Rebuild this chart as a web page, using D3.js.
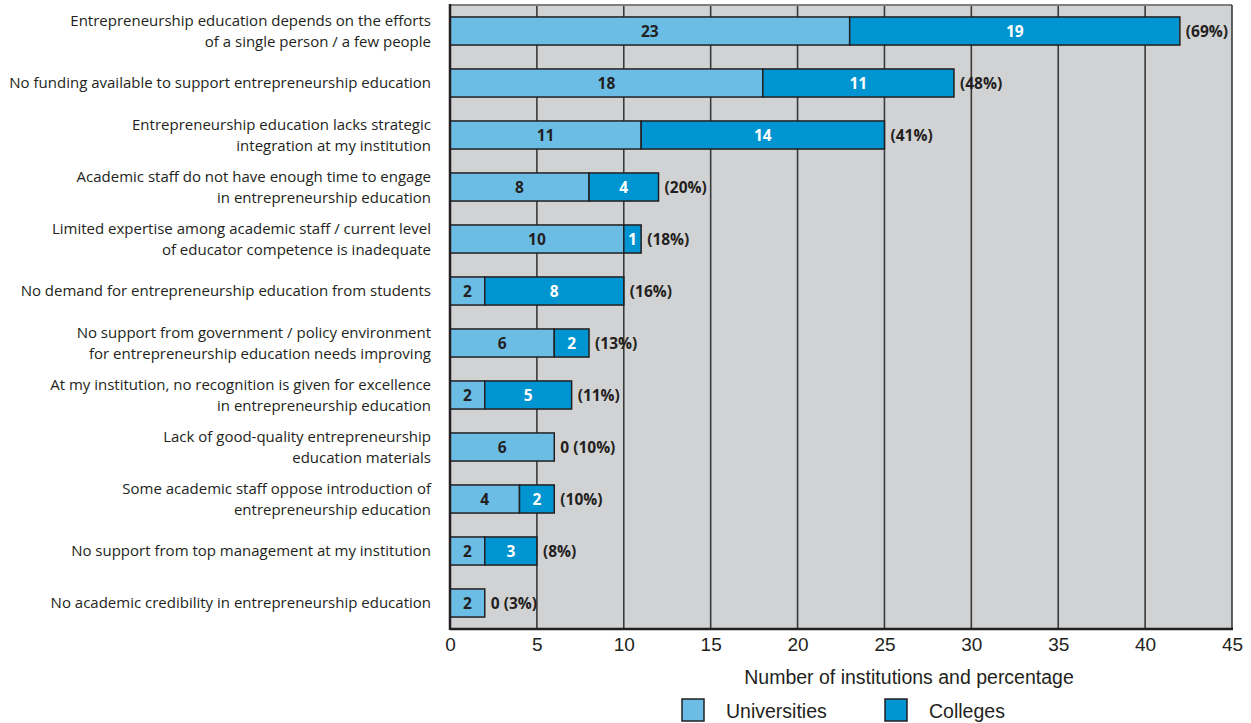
<!DOCTYPE html>
<html>
<head>
<meta charset="utf-8">
<script src="https://cdn.jsdelivr.net/npm/d3@7/dist/d3.min.js"></script>
<style>
  html, body { margin: 0; padding: 0; background: #ffffff; }
  svg { display: block; }
</style>
</head>
<body>
<svg id="chart" width="1251" height="723"></svg>
<script>
// Barriers to entrepreneurship education, by type of institution
const categories = [
  ["Entrepreneurship education depends on the efforts", "of a single person / a few people"],
  ["No funding available to support entrepreneurship education"],
  ["Entrepreneurship education lacks strategic", "integration at my institution"],
  ["Academic staff do not have enough time to engage", "in entrepreneurship education"],
  ["Limited expertise among academic staff / current level", "of educator competence is inadequate"],
  ["No demand for entrepreneurship education from students"],
  ["No support from government / policy environment", "for entrepreneurship education needs improving"],
  ["At my institution, no recognition is given for excellence", "in entrepreneurship education"],
  ["Lack of good-quality entrepreneurship", "education materials"],
  ["Some academic staff oppose introduction of", "entrepreneurship education"],
  ["No support from top management at my institution"],
  ["No academic credibility in entrepreneurship education"]
];
const universities = [23, 18, 11, 8, 10, 2, 6, 2, 6, 4, 2, 2];
const colleges     = [19, 11, 14, 4, 1, 8, 2, 5, 0, 2, 3, 0];
const percentages  = [69, 48, 41, 20, 18, 16, 13, 11, 10, 10, 8, 3];
const xTicks = [0, 5, 10, 15, 20, 25, 30, 35, 40, 45];
const seriesNames = ["Universities", "Colleges"];

const colors = { Universities: "#6bbde6", Colleges: "#0095d0" };
const ink = "#231f20";
const labelFont = "'Open Sans', 'Noto Sans', sans-serif";
const axisFont = "'Liberation Sans', Arial, sans-serif";

const svg = d3.select("#chart");
const plot = { left: 450, right: 1232, top: 5, bottom: 629 };

const x = d3.scaleLinear().domain([0, 45]).range([plot.left, plot.right]);
const y = d3.scaleBand()
  .domain(d3.range(categories.length))
  .range([plot.top, plot.bottom])
  .paddingInner(0.46)
  .paddingOuter(0.23);

// plot background
svg.append("rect")
  .attr("x", plot.left).attr("y", plot.top)
  .attr("width", plot.right - plot.left).attr("height", plot.bottom - plot.top)
  .attr("fill", "#d1d2d4");

// vertical grid lines
svg.append("g")
  .selectAll("line")
  .data(xTicks.filter(t => t > 0 && t < 45))
  .join("line")
  .attr("x1", d => x(d)).attr("x2", d => x(d))
  .attr("y1", plot.top).attr("y2", plot.bottom)
  .attr("stroke", "#3a3a3a").attr("stroke-width", 1.6);

// frame
svg.append("line").attr("x1", plot.left).attr("x2", plot.right)
  .attr("y1", plot.top).attr("y2", plot.top)
  .attr("stroke", "#7f7f7f").attr("stroke-width", 2);
svg.append("line").attr("x1", plot.right).attr("x2", plot.right)
  .attr("y1", plot.top).attr("y2", plot.bottom)
  .attr("stroke", "#3a3a3a").attr("stroke-width", 1.6);

// stacked data
const rows = categories.map((c, i) => ({
  i, lines: c, uni: universities[i], col: colleges[i], pct: percentages[i]
}));

const bh = y.bandwidth();
const barG = svg.append("g");
const valueSize = 15.5;

rows.forEach(r => {
  const yy = y(r.i);
  const cy = yy + bh / 2;
  // universities segment
  barG.append("rect")
    .attr("x", x(0)).attr("y", yy)
    .attr("width", x(r.uni) - x(0)).attr("height", bh)
    .attr("fill", colors.Universities)
    .attr("stroke", ink).attr("stroke-width", 1.5);
  barG.append("text")
    .attr("x", (x(0) + x(r.uni)) / 2).attr("y", cy)
    .attr("dy", "0.36em").attr("text-anchor", "middle")
    .attr("font-family", labelFont).attr("font-weight", 700).attr("font-size", valueSize)
    .attr("fill", ink).text(r.uni);
  // colleges segment
  if (r.col > 0) {
    barG.append("rect")
      .attr("x", x(r.uni)).attr("y", yy)
      .attr("width", x(r.uni + r.col) - x(r.uni)).attr("height", bh)
      .attr("fill", colors.Colleges)
      .attr("stroke", ink).attr("stroke-width", 1.5);
    barG.append("text")
      .attr("x", (x(r.uni) + x(r.uni + r.col)) / 2).attr("y", cy)
      .attr("dy", "0.36em").attr("text-anchor", "middle")
      .attr("font-family", labelFont).attr("font-weight", 700).attr("font-size", valueSize)
      .attr("fill", "#ffffff").text(r.col);
  }
  // total share label
  const endX = x(r.uni + r.col);
  const t = barG.append("text")
    .attr("x", endX + 6).attr("y", cy)
    .attr("dy", "0.36em").attr("text-anchor", "start")
    .attr("font-family", labelFont).attr("font-weight", 700).attr("font-size", valueSize)
    .attr("fill", ink);
  t.text(r.col === 0 ? `0 (${r.pct}%)` : `(${r.pct}%)`);
});

// left and bottom axis lines (drawn over the bars)
svg.append("line").attr("x1", plot.left).attr("x2", plot.left)
  .attr("y1", plot.top - 1).attr("y2", plot.bottom + 1)
  .attr("stroke", ink).attr("stroke-width", 2.5);
svg.append("line").attr("x1", plot.left).attr("x2", plot.right + 1)
  .attr("y1", plot.bottom).attr("y2", plot.bottom)
  .attr("stroke", ink).attr("stroke-width", 2.5);

// category labels
const catG = svg.append("g");
rows.forEach(r => {
  const cy = y(r.i) + bh / 2;
  const n = r.lines.length;
  const lh = 20.5;
  r.lines.forEach((ln, k) => {
    catG.append("text")
      .attr("x", 431)
      .attr("y", cy + (k - (n - 1) / 2) * lh)
      .attr("dy", "0.36em")
      .attr("text-anchor", "end")
      .attr("font-family", labelFont).attr("font-size", 15)
      .attr("fill", ink)
      .text(ln);
  });
});

// x axis
const xAxis = d3.axisBottom(x).tickValues(xTicks).tickSize(0).tickPadding(9);
const ax = svg.append("g")
  .attr("transform", `translate(0,${plot.bottom})`)
  .call(xAxis);
ax.select(".domain").remove();
ax.selectAll("text")
  .attr("font-family", axisFont).attr("font-size", 19).attr("fill", ink);

svg.append("text")
  .attr("x", 909).attr("y", 684)
  .attr("text-anchor", "middle")
  .attr("font-family", axisFont).attr("font-size", 19.5).attr("fill", ink)
  .text("Number of institutions and percentage");

// legend
const legendX = [682, 885];
seriesNames.forEach((name, i) => {
  const g = svg.append("g").attr("transform", `translate(${legendX[i]},699)`);
  g.append("rect")
    .attr("width", 22).attr("height", 22)
    .attr("fill", colors[name]).attr("stroke", ink).attr("stroke-width", 1.5);
  g.append("text")
    .attr("x", 44).attr("y", 12).attr("dy", "0.36em")
    .attr("font-family", axisFont).attr("font-size", 19.5).attr("fill", ink)
    .text(name);
});
</script>
</body>
</html>
